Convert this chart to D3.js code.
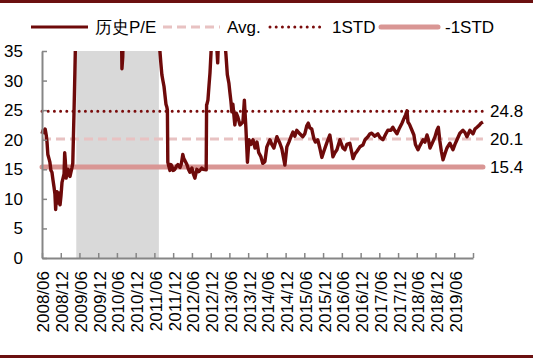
<!DOCTYPE html>
<html><head><meta charset="utf-8">
<script src="https://cdn.jsdelivr.net/npm/d3@7"></script>
<style>body{margin:0;background:#fff}svg{display:block}text{font-family:Arial,"Liberation Sans",sans-serif}</style>
</head><body><svg id="c" width="533" height="358"></svg>
<script>
const peDates = ["2008-06-01","2008-06-12","2008-06-22","2008-07-02","2008-07-12","2008-07-20","2008-07-28","2008-08-08","2008-08-17","2008-08-27","2008-09-06","2008-09-16","2008-09-26","2008-10-05","2008-10-12","2008-10-19","2008-10-25","2008-11-04","2008-11-14","2008-11-24","2008-12-03","2008-12-13","2008-12-23","2009-01-02","2009-01-08","2009-01-14","2009-01-22","2009-02-01","2009-02-10","2009-02-20","2009-03-01","2009-03-10","2009-03-19","2009-03-28","2009-04-08","2009-04-17","2009-04-25","2009-05-07","2009-08-15","2009-11-20","2010-02-15","2010-05-10","2010-07-10","2010-07-20","2010-07-28","2010-08-08","2010-11-15","2011-02-10","2011-05-10","2011-07-04","2011-07-24","2011-08-03","2011-08-13","2011-08-23","2011-09-03","2011-09-22","2011-10-01","2011-10-06","2011-10-10","2011-10-20","2011-10-31","2011-11-10","2011-11-19","2011-12-01","2011-12-18","2012-01-05","2012-01-16","2012-02-06","2012-02-20","2012-03-04","2012-03-14","2012-03-24","2012-04-13","2012-04-28","2012-05-12","2012-06-01","2012-06-15","2012-06-30","2012-07-10","2012-07-19","2012-08-05","2012-08-17","2012-09-05","2012-09-20","2012-10-18","2012-10-22","2012-10-25","2012-11-04","2012-11-15","2012-11-24","2012-12-04","2012-12-13","2013-01-12","2013-01-28","2013-02-07","2013-02-21","2013-03-20","2013-04-08","2013-04-18","2013-04-28","2013-05-12","2013-05-27","2013-06-06","2013-06-16","2013-06-25","2013-07-05","2013-07-24","2013-08-07","2013-08-23","2013-09-12","2013-10-11","2013-10-25","2013-11-09","2013-11-24","2013-12-09","2013-12-28","2014-01-17","2014-02-06","2014-02-25","2014-03-14","2014-04-03","2014-04-22","2014-05-13","2014-06-01","2014-07-01","2014-07-19","2014-08-09","2014-09-07","2014-10-06","2014-10-25","2014-11-10","2014-11-24","2014-12-13","2015-01-02","2015-01-22","2015-02-10","2015-03-01","2015-03-20","2015-04-18","2015-05-17","2015-06-06","2015-06-26","2015-07-10","2015-07-25","2015-08-13","2015-09-02","2015-09-17","2015-10-10","2015-10-30","2015-11-19","2015-12-08","2016-01-07","2016-02-05","2016-02-20","2016-03-06","2016-03-25","2016-04-14","2016-05-13","2016-06-11","2016-07-01","2016-07-19","2016-08-18","2016-09-18","2016-10-07","2016-10-25","2016-11-24","2016-12-23","2017-01-13","2017-02-10","2017-03-02","2017-03-19","2017-04-18","2017-05-18","2017-06-07","2017-07-06","2017-08-04","2017-08-23","2017-09-22","2017-10-11","2017-10-31","2017-11-20","2017-12-10","2018-01-08","2018-01-28","2018-02-12","2018-02-26","2018-03-07","2018-03-22","2018-04-15","2018-05-04","2018-05-19","2018-06-13","2018-07-02","2018-08-01","2018-08-20","2018-09-09","2018-09-23","2018-10-08","2018-10-27","2018-11-26","2018-12-14","2018-12-28","2019-01-12","2019-01-27","2019-02-12","2019-03-02","2019-03-22","2019-04-20","2019-05-20","2019-06-08","2019-06-28","2019-07-26","2019-08-25","2019-09-14","2019-10-03","2019-11-01","2019-12-01","2019-12-20","2020-01-09","2020-01-28","2020-02-17","2020-03-07"];
const peValues = [21.0,21.6,21.2,21.8,20.8,19.6,17.5,16.8,16.2,14.8,14.5,13.2,12.0,10.8,8.2,10.5,11.2,9.3,11.0,9.0,10.5,12.8,13.5,14.2,17.8,16.5,13.5,14.8,15.0,14.0,13.8,14.5,15.2,16.0,24,31,38,44,48,50,46,48,45,32,34,46,50,48,46,40,35.2,33,31,30,29,26,25.5,25,16.2,15.5,14.8,15.8,15.5,14.8,15.0,15.6,15.8,15.3,16.0,17.5,16.8,16.5,15.8,15.0,14.5,15.2,14.2,13.5,14.3,15.0,14.6,14.8,15.2,15.0,14.9,25.9,26.0,26.7,29.3,31.3,34.7,38,42,36,33,40,43,38,36.5,34.5,31,29.6,28.0,26.5,24.7,26,22.5,24.5,23.8,22.5,23.0,26.7,22.0,16.2,20.0,19.2,20.0,18.6,19.6,17.8,17.2,16.0,16.3,18.8,20.0,19.2,18.6,20.5,19.4,18.5,17.0,15.7,18.8,19.6,20.5,21.3,20.6,21.6,21.0,20.5,21.0,22.4,22.8,22.0,21.8,20.2,19.6,20.0,18.6,17.0,18.0,19.5,20.8,19.2,17.1,17.8,18.3,20.0,18.6,18.3,19.2,19.4,16.8,17.6,18.0,18.8,19.1,20.0,20.5,21.0,21.1,20.6,21.0,20.4,20.0,21.0,21.6,21.6,22.1,21.5,21.0,21.8,22.8,23.6,24.2,24.9,23.0,22.6,21.6,20.8,19.2,18.3,19.0,20.0,19.6,20.8,20.0,18.6,19.3,20.5,21.6,22.1,19.8,18.0,16.6,17.6,18.6,19.4,18.3,19.2,20.0,21.1,21.6,21.2,20.5,21.6,21.0,21.8,22.1,22.4,22.8,23.0];
const shadedPeriod = ["2009-05-01","2011-07-15"];
const refNames = ["Avg.","1STD","-1STD"];
const refValues = [20.1, 24.8, 15.4];
const xTickLabels = ["2008/06","2008/12","2009/06","2009/12","2010/06","2010/12","2011/06","2011/12","2012/06","2012/12","2013/06","2013/12","2014/06","2014/12","2015/06","2015/12","2016/06","2016/12","2017/06","2017/12","2018/06","2018/12","2019/06"];
const xAxisEnd = "2019/12";
const yTicks = [0,5,10,15,20,25,30,35];
const seriesName = "历史P/E";

const svg = d3.select("#c");
const parse = d3.timeParse("%Y-%m-%d");
const parseTick = d3.timeParse("%Y/%m");
const data = peDates.map((d,i)=>({d:parse(d), v:peValues[i]}));
const x = d3.scaleTime().domain([parseTick(xTickLabels[0]), parseTick(xAxisEnd)]).range([42,473]);
const y = d3.scaleLinear().domain([0,35]).range([258,51]);
const C_LINE="#6E0A0A", C_AVG="#E8C2C2", C_STD="#7A0C0C", C_NSTD="#D99694";

svg.append("rect").attr("x",0).attr("y",0).attr("width",533).attr("height",3).attr("fill","#6B1010");
svg.append("rect").attr("x",0).attr("y",355).attr("width",533).attr("height",3).attr("fill","#6B1010");

const sp = shadedPeriod.map(parse);
svg.append("rect").attr("x",x(sp[0])).attr("y",y(35)).attr("width",x(sp[1])-x(sp[0])).attr("height",y(0)-y(35)).attr("fill","#D9D9D9");

const x0 = x(data[0].d), x1 = x(data[data.length-1].d);
const refStyle = {"Avg.":{c:C_AVG,w:3,dash:"9,5",cap:"butt"},"1STD":{c:C_STD,w:3,dash:"0,6.2",cap:"round"},"-1STD":{c:C_NSTD,w:5,dash:null,cap:"round"}};
refNames.forEach((n,i)=>{
  const s = refStyle[n];
  const l = svg.append("line").attr("x1",x0).attr("x2",x1).attr("y1",y(refValues[i])).attr("y2",y(refValues[i]))
    .attr("stroke",s.c).attr("stroke-width",s.w).attr("stroke-linecap",s.cap);
  if (s.dash) l.attr("stroke-dasharray",s.dash);
  svg.append("text").attr("x",490).attr("y",y(refValues[i])).attr("dy","0.35em").attr("font-size",17).attr("fill","#000").text(refValues[i].toFixed(1));
});

svg.append("clipPath").attr("id","pc").append("rect").attr("x",0).attr("y",y(35)).attr("width",533).attr("height",y(0)-y(35));
svg.append("path").datum(data).attr("clip-path","url(#pc)")
  .attr("d", d3.line().x(d=>x(d.d)).y(d=>y(d.v)))
  .attr("fill","none").attr("stroke",C_LINE).attr("stroke-width",3.4).attr("stroke-linejoin","round");

const tickDates = xTickLabels.map(parseTick).concat([parseTick(xAxisEnd)]);
const fmt = d3.timeFormat("%Y/%m");
const xa = svg.append("g").attr("transform","translate(0,258)")
  .call(d3.axisBottom(x).tickValues(tickDates).tickSizeInner(-5).tickSizeOuter(0).tickPadding(8)
    .tickFormat(d=> xTickLabels.includes(fmt(d)) ? fmt(d) : ""));
xa.select(".domain").attr("stroke","#868686").attr("stroke-width",2);
xa.selectAll(".tick line").attr("stroke","#868686").attr("stroke-width",1.5);
xa.selectAll(".tick text").attr("font-size",17).attr("fill","#000").attr("font-family","Arial, 'Liberation Sans', sans-serif")
  .attr("transform","rotate(-90)").attr("text-anchor","end").attr("x",-13).attr("y",1).attr("dy","0.35em");

const ya = svg.append("g").attr("transform","translate(42,0)")
  .call(d3.axisLeft(y).tickValues(yTicks).tickSizeInner(-5).tickSizeOuter(0).tickPadding(19));
ya.select(".domain").attr("stroke","#868686").attr("stroke-width",2);
ya.selectAll(".tick line").attr("stroke","#868686").attr("stroke-width",1.5);
ya.selectAll(".tick text").attr("font-size",17).attr("fill","#000").attr("font-family","Arial, 'Liberation Sans', sans-serif");

const leg = [{n:seriesName,x1:31,x2:88,tx:95,c:C_LINE,w:3,dash:null,cap:"butt"},
  {n:refNames[0],x1:163,x2:220,tx:227,...refStyle["Avg."]},
  {n:refNames[1],x1:270,x2:320,tx:332,...refStyle["1STD"]},
  {n:refNames[2],x1:381,x2:438,tx:445,...refStyle["-1STD"]}];
leg.forEach(l=>{
  const ln = svg.append("line").attr("x1",l.x1).attr("x2",l.x2).attr("y1",27).attr("y2",27)
    .attr("stroke",l.c).attr("stroke-width",l.w).attr("stroke-linecap",l.cap);
  if (l.dash) ln.attr("stroke-dasharray",l.dash);
  svg.append("text").attr("x",l.tx).attr("y",33).attr("font-size",17).attr("fill","#000").text(l.n);
});
</script></body></html>
